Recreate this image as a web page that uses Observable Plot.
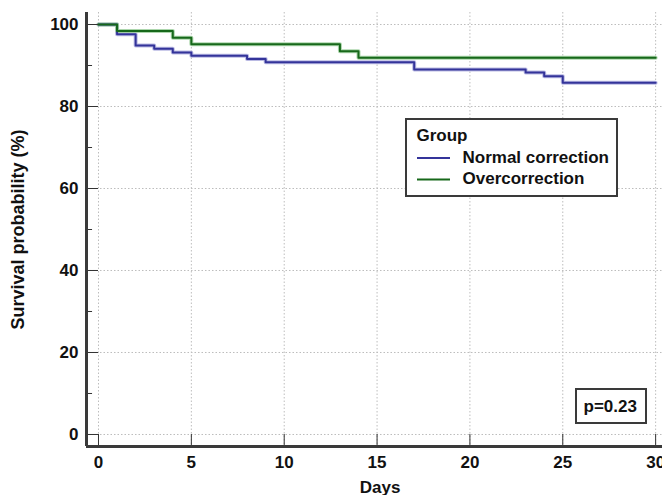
<!DOCTYPE html>
<html><head><meta charset="utf-8">
<script src="https://cdn.jsdelivr.net/npm/d3@7"></script>
<script src="https://cdn.jsdelivr.net/npm/@observablehq/plot@0.6"></script>
<style>
body{margin:0;background:#fff;}
#wrap{width:662px;height:495px;overflow:hidden;}
</style></head><body><div id="wrap"></div>
<script>
// ---- data ----
const groups = ["Normal correction", "Overcorrection"];
const groupColors = ["#34349a", "#17681a"];
const groupHalo = ["#a9a9dc", "#97cc97"];
const normalDays = [0, 1, 2, 3, 4, 5, 8, 9, 17, 23, 24, 25, 30];
const normalSurv = [100, 97.6, 94.9, 94.1, 93.2, 92.4, 91.6, 90.8, 89.0, 88.3, 87.4, 85.8, 85.8];
const overDays = [0, 1, 4, 5, 13, 14, 30];
const overSurv = [100, 98.4, 96.8, 95.2, 93.5, 91.9, 91.9];
const xTicks = [0, 5, 10, 15, 20, 25, 30];
const yTicks = [0, 20, 40, 60, 80, 100];
const yMinorTicks = [10, 30, 50, 70, 90];
const xDomain = [-0.646, 30.37];
const yDomain = [-2.93, 102.93];
const xLabel = "Days";
const yLabel = "Survival probability (%)";
const legendTitle = "Group";
const pText = "p=0.23";

const rows = [
  ...normalDays.map((d, i) => ({group: groups[0], day: d, surv: normalSurv[i]})),
  ...overDays.map((d, i) => ({group: groups[1], day: d, surv: overSurv[i]}))
];

const font = '"Liberation Sans", Arial, sans-serif';

function overlay(index, scales, values, dims) {
  const g = d3.create("svg:g").attr("font-family", font).attr("font-weight", "bold")
    .attr("font-size", 17).attr("text-anchor", "start");
  // legend box
  g.append("rect").attr("x", 406).attr("y", 119).attr("width", 211).attr("height", 77)
    .attr("fill", "#fff").attr("stroke", "#3a3a3a").attr("stroke-width", 2);
  g.append("text").attr("x", 416.5).attr("y", 141).attr("fill", "#111").text(legendTitle);
  const ys = [158, 179.5], ty = [162.5, 184];
  groups.forEach((name, i) => {
    g.append("line").attr("x1", 417).attr("x2", 450).attr("y1", ys[i]).attr("y2", ys[i])
      .attr("stroke", groupColors[i]).attr("stroke-width", 2);
    g.append("text").attr("x", 462.5).attr("y", ty[i]).attr("fill", "#111").text(name);
  });
  // p-value box
  g.append("rect").attr("x", 576).attr("y", 389).attr("width", 70).attr("height", 34)
    .attr("fill", "#fff").attr("stroke", "#3a3a3a").attr("stroke-width", 2);
  g.append("text").attr("x", 583.5).attr("y", 412).attr("fill", "#111").text(pText);
  return g.node();
}

const grid = {stroke: "#bdbdbd", strokeDasharray: "1.5,2", strokeWidth: 1, strokeOpacity: 1};

const chart = Plot.plot({
  width: 662,
  height: 495,
  marginLeft: 86,
  marginRight: 0,
  marginTop: 12,
  marginBottom: 49,
  style: {fontFamily: font, fontSize: "17px", fontWeight: "bold", color: "#111", background: "#fff", overflow: "hidden"},
  x: {domain: xDomain, axis: null},
  y: {domain: yDomain, axis: null},
  color: {domain: groups, range: groupColors},
  marks: [
    Plot.ruleX(xTicks, {...grid}),
    Plot.ruleY(yTicks, {...grid}),
    // curves (halo + core)
    Plot.line(rows, {x: "day", y: "surv", z: "group", curve: "step-after",
      stroke: d => groupHalo[groups.indexOf(d.group)], strokeWidth: 4, strokeOpacity: 0.8}),
    Plot.line(rows, {x: "day", y: "surv", z: "group", curve: "step-after",
      stroke: "group", strokeWidth: 2}),
    // inward ticks
    Plot.ruleY(yTicks, {x1: xDomain[0], x2: 0, stroke: "#333", strokeWidth: 1}),
    Plot.ruleY(yMinorTicks, {x1: xDomain[0], x2: -0.32, stroke: "#333", strokeWidth: 1}),
    Plot.ruleX(xTicks, {y1: yDomain[0], y2: 0, stroke: "#333", strokeWidth: 1}),
    // axis lines
    Plot.ruleX([xDomain[0]], {stroke: "#3a3a3a", strokeWidth: 3}),
    Plot.ruleY([yDomain[0]], {stroke: "#3a3a3a", strokeWidth: 3}),
    // tick labels
    Plot.axisY(yTicks, {anchor: "left", tickSize: 0, tickPadding: 8, label: null, fill: "#111"}),
    Plot.axisX(xTicks, {anchor: "bottom", tickSize: 0, tickPadding: 9, label: null, fill: "#111"}),
    // axis titles
    Plot.text([xLabel], {x: d3.mean([xTicks[0], xTicks[xTicks.length - 1]]), frameAnchor: "bottom", dy: 41.5, dx: 3, lineAnchor: "middle", textAnchor: "middle", fill: "#111", text: d => d}),
    Plot.text([yLabel], {y: d3.mean([yTicks[0], yTicks[yTicks.length - 1]]), frameAnchor: "left", dx: -68, rotate: -90, lineAnchor: "middle", textAnchor: "middle", fontSize: 18, fill: "#111", text: d => d}),
    overlay
  ]
});
document.getElementById("wrap").appendChild(chart);
</script>
</body></html>
